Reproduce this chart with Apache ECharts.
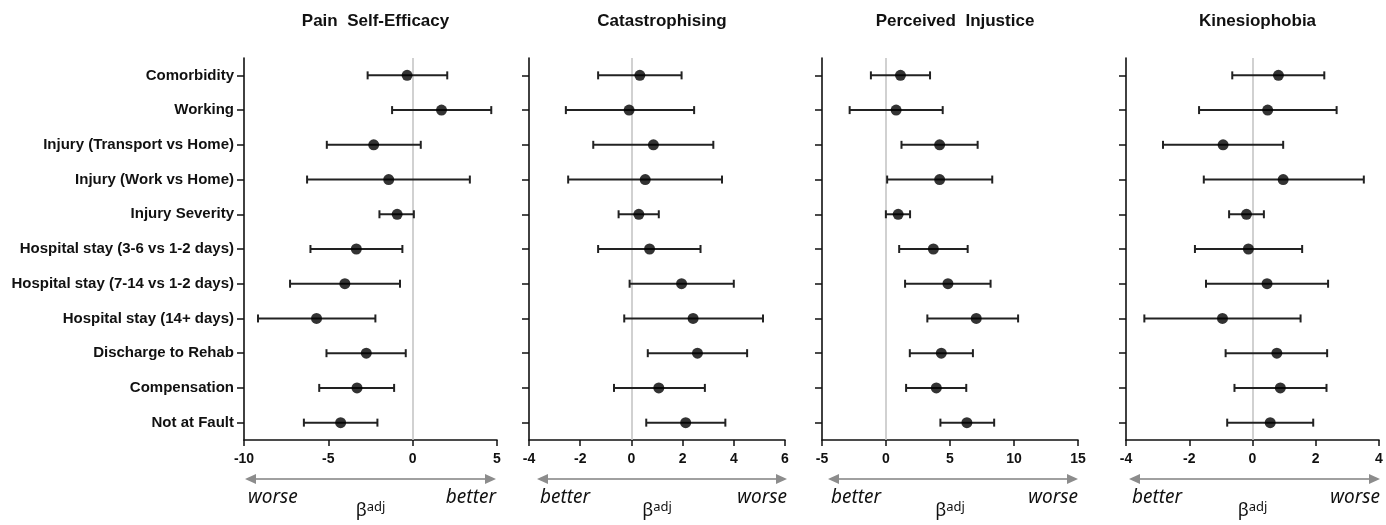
<!DOCTYPE html>
<html><head><meta charset="utf-8">
<script src="https://cdn.jsdelivr.net/npm/echarts/dist/echarts.min.js"></script>
<style>html,body{margin:0;padding:0;background:#fff}#c{width:1386px;height:525px}</style>
</head><body><div id="c"></div>
<script>
// ---- data ----
const categories = ['Comorbidity','Working','Injury (Transport vs Home)','Injury (Work vs Home)','Injury Severity',
  'Hospital stay (3-6 vs 1-2 days)','Hospital stay (7-14 vs 1-2 days)','Hospital stay (14+ days)',
  'Discharge to Rehab','Compensation','Not at Fault'];
const panelTitles = ['Pain  Self-Efficacy','Catastrophising','Perceived  Injustice','Kinesiophobia'];

const selfEfficacyEst = [-0.33, 1.71, -2.31, -1.42, -0.92, -3.34, -4.02, -5.70, -2.75, -3.30, -4.27];
const selfEfficacyLo  = [-2.67, -1.22, -5.09, -6.26, -1.97, -6.06, -7.27, -9.17, -5.11, -5.54, -6.45];
const selfEfficacyHi  = [2.05, 4.66, 0.48, 3.39, 0.07, -0.61, -0.75, -2.21, -0.41, -1.10, -2.09];

const catastrophisingEst = [0.33, -0.09, 0.86, 0.54, 0.29, 0.71, 1.96, 2.41, 2.58, 1.07, 2.12];
const catastrophisingLo  = [-1.30, -2.56, -1.49, -2.47, -0.50, -1.30, -0.07, -0.28, 0.64, -0.68, 0.58];
const catastrophisingHi  = [1.96, 2.45, 3.20, 3.54, 1.07, 2.70, 4.00, 5.14, 4.52, 2.87, 3.67];

const injusticeEst = [1.13, 0.79, 4.19, 4.19, 0.95, 3.70, 4.84, 7.05, 4.32, 3.93, 6.32];
const injusticeLo  = [-1.18, -2.84, 1.21, 0.09, -0.01, 1.03, 1.49, 3.23, 1.86, 1.57, 4.25];
const injusticeHi  = [3.44, 4.43, 7.16, 8.30, 1.88, 6.38, 8.17, 10.32, 6.79, 6.27, 8.45];

const kinesiophobiaEst = [0.82, 0.48, -0.93, 0.97, -0.19, -0.13, 0.46, -0.95, 0.77, 0.88, 0.56];
const kinesiophobiaLo  = [-0.64, -1.69, -2.83, -1.54, -0.74, -1.82, -1.47, -3.42, -0.85, -0.57, -0.80];
const kinesiophobiaHi  = [2.27, 2.66, 0.97, 3.52, 0.36, 1.57, 2.39, 1.52, 2.36, 2.34, 1.92];

const axisMin = [-10, -4, -5, -4];
const axisMax = [5, 6, 15, 4];
const axisInterval = [5, 2, 5, 2];
const leftWords = ['worse', 'better', 'better', 'better'];
const rightWords = ['better', 'worse', 'worse', 'worse'];
const axisName = '{b|β}{s|adj}';

const estimates = [selfEfficacyEst, catastrophisingEst, injusticeEst, kinesiophobiaEst];
const lows = [selfEfficacyLo, catastrophisingLo, injusticeLo, kinesiophobiaLo];
const highs = [selfEfficacyHi, catastrophisingHi, injusticeHi, kinesiophobiaHi];

// ---- layout ----
const gridLeft = [244, 529, 822, 1126];
const gridWidth = [253, 256, 256, 253];
const gridTop = 58, gridBottomY = 443;
const arrowY = 479, wordY = 498;
const arrowOffset = [[1, -1], [8, 2], [6, 0], [3, 1]];
const FONT = 'Liberation Sans, Arial, sans-serif';

const chart = echarts.init(document.getElementById('c'), null, {renderer: 'canvas'});

function renderErr(params, api) {
  const k = api.value(2);
  const p1 = api.coord([api.value(0), k]);
  const p2 = api.coord([api.value(1), k]);
  const h = 4;
  const style = {stroke: '#222', lineWidth: 2, fill: null};
  return {type: 'group', children: [
    {type: 'line', shape: {x1: p1[0], y1: p1[1], x2: p2[0], y2: p2[1]}, style},
    {type: 'line', shape: {x1: p1[0], y1: p1[1] - h, x2: p1[0], y2: p1[1] + h}, style},
    {type: 'line', shape: {x1: p2[0], y1: p2[1] - h, x2: p2[0], y2: p2[1] + h}, style}
  ]};
}

const grids = [], xAxes = [], yAxes = [], series = [], titles = [], graphics = [];
for (let i = 0; i < 4; i++) {
  grids.push({left: gridLeft[i], width: gridWidth[i], top: gridTop, height: gridBottomY - gridTop});
  titles.push({
    text: panelTitles[i], left: gridLeft[i] + gridWidth[i] / 2, top: 8, textAlign: 'center',
    textStyle: {fontFamily: FONT, fontWeight: 'bold', fontSize: 17, color: '#111'}
  });
  xAxes.push({
    type: 'value', gridIndex: i, min: axisMin[i], max: axisMax[i], interval: axisInterval[i],
    splitLine: {show: false},
    axisLine: {show: true, onZero: false, lineStyle: {color: '#111', width: 1.6}},
    axisTick: {show: true, length: 6, lineStyle: {color: '#111', width: 1.5}},
    axisLabel: {color: '#111', fontWeight: 'bold', fontSize: 14, margin: 12, fontFamily: FONT},
    name: axisName, nameLocation: 'middle', nameGap: 61,
    nameTextStyle: {
      rich: {
        b: {fontSize: 18, fontFamily: 'Noto Sans, sans-serif', color: '#111', verticalAlign: 'bottom'},
        s: {fontSize: 13, fontFamily: 'Noto Sans, sans-serif', color: '#111', verticalAlign: 'top', padding: [0, 0, 6, 0]}
      }
    }
  });
  yAxes.push({
    type: 'category', gridIndex: i, data: categories, inverse: true, boundaryGap: true,
    axisLine: {show: true, onZero: false, lineStyle: {color: '#111', width: 1.6}},
    axisTick: {show: true, alignWithLabel: true, length: 7, lineStyle: {color: '#111', width: 1.5}},
    axisLabel: {show: i === 0, color: '#111', fontWeight: 'bold', fontSize: 15, margin: 10, fontFamily: FONT},
    splitLine: {show: false}
  });
  series.push({
    type: 'custom', xAxisIndex: i, yAxisIndex: i, z: 2,
    renderItem: renderErr,
    dimensions: ['lo', 'hi', 'cat'],
    encode: {x: [0, 1], y: 2},
    data: categories.map((c, k) => [lows[i][k], highs[i][k], k])
  });
  series.push({
    type: 'scatter', xAxisIndex: i, yAxisIndex: i, z: 3,
    symbol: 'circle', symbolSize: 11,
    itemStyle: {color: '#000'},
    data: categories.map((c, k) => [estimates[i][k], k]),
    markLine: {
      silent: true, symbol: 'none', label: {show: false}, z: 1,
      lineStyle: {color: '#c6c6c6', width: 1.6, type: 'solid'},
      data: [{xAxis: 0}]
    }
  });

  const x1 = gridLeft[i] + arrowOffset[i][0];
  const x2 = gridLeft[i] + gridWidth[i] + arrowOffset[i][1];
  const col = '#8c8c8c';
  graphics.push({type: 'line', silent: true, shape: {x1: x1 + 8, y1: arrowY, x2: x2 - 8, y2: arrowY},
    style: {stroke: '#a0a0a0', lineWidth: 2}});
  graphics.push({type: 'polygon', silent: true, shape: {points: [[x1, arrowY], [x1 + 11, arrowY - 5], [x1 + 11, arrowY + 5]]},
    style: {fill: col}});
  graphics.push({type: 'polygon', silent: true, shape: {points: [[x2, arrowY], [x2 - 11, arrowY - 5], [x2 - 11, arrowY + 5]]},
    style: {fill: col}});
  graphics.push({type: 'text', silent: true, x: x1 + 3, y: wordY,
    style: {text: leftWords[i], font: 'italic 19px "Noto Sans", sans-serif', fill: '#111', textAlign: 'left', textVerticalAlign: 'middle'}});
  graphics.push({type: 'text', silent: true, x: x2, y: wordY,
    style: {text: rightWords[i], font: 'italic 19px "Noto Sans", sans-serif', fill: '#111', textAlign: 'right', textVerticalAlign: 'middle'}});
}

chart.setOption({
  backgroundColor: '#fff',
  animation: false,
  title: titles,
  grid: grids,
  xAxis: xAxes,
  yAxis: yAxes,
  series: series,
  graphic: graphics
});
</script>
</body></html>
